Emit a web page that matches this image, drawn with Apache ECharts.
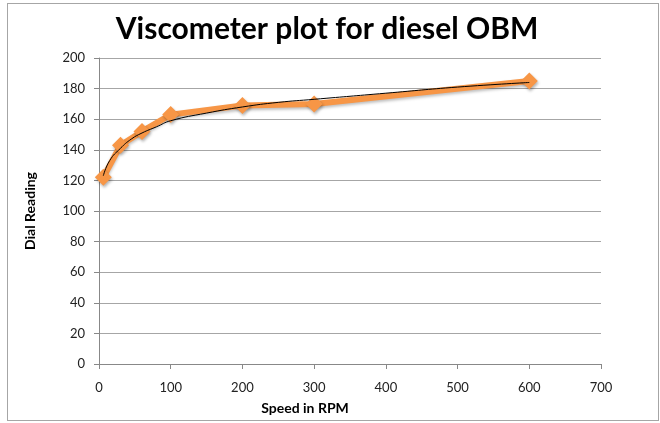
<!DOCTYPE html>
<html>
<head>
<meta charset="utf-8">
<script src="https://cdn.jsdelivr.net/npm/echarts@6/dist/echarts.min.js"></script>
<style>
  html, body { margin: 0; padding: 0; background: #fff; }
  #frame { position: absolute; left: 7px; top: 3px; width: 650px; height: 416px; border: 1px solid #a6a6a6; }
  #chart { position: absolute; left: 0; top: 0; width: 660px; height: 423px; }
</style>
</head>
<body>
<div id="frame"></div>
<div id="chart"></div>
<script>
// 数据点
let speed = [6, 30, 60, 100, 200, 300, 600]
let dial = [122, 143, 152, 163, 169, 170, 185]
// 趋势线
let trendX = [6, 15, 30, 45, 60, 80, 100, 150, 200, 250, 300, 400, 500, 600]
let trendY = [123, 133, 141, 147, 151, 155, 159, 164, 168, 171, 173, 177, 181, 184]

let xTicks = [0, 100, 200, 300, 400, 500, 600, 700]
let yTicks = [0, 20, 40, 60, 80, 100, 120, 140, 160, 180, 200]

let font = 'Lato, "Open Sans", sans-serif'

let chartOption = {
  animation: false,
  title: {
    text: 'Viscometer plot for diesel OBM',
    left: 322,
    top: 9,
    textAlign: 'center',
    textStyle: { fontFamily: font, fontSize: 30, fontWeight: 'bold', color: '#000' }
  },
  grid: { left: 99, right: 59, top: 58, bottom: 59 },
  xAxis: {
    type: 'value',
    min: xTicks[0],
    max: xTicks[xTicks.length - 1],
    interval: 100,
    name: 'Speed in RPM',
    nameLocation: 'middle',
    nameGap: 37,
    nameTextStyle: { fontFamily: font, fontSize: 14, fontWeight: 'bold', color: '#000', padding: [0, 90, 0, 0] },
    axisLine: { show: true, lineStyle: { color: '#888' } },
    axisTick: { show: true, length: 5, lineStyle: { color: '#888' } },
    axisLabel: { fontFamily: font, fontSize: 13, color: '#222', margin: 17 },
    splitLine: { show: false }
  },
  yAxis: {
    type: 'value',
    min: yTicks[0],
    max: yTicks[yTicks.length - 1],
    interval: 20,
    name: 'Dial Reading',
    nameLocation: 'middle',
    nameGap: 62,
    nameTextStyle: { fontFamily: font, fontSize: 14, fontWeight: 'bold', color: '#000' },
    axisLine: { show: true, lineStyle: { color: '#888' } },
    axisTick: { show: true, length: 5, lineStyle: { color: '#888' } },
    axisLabel: { fontFamily: font, fontSize: 13, color: '#222', margin: 14 },
    splitLine: { show: true, lineStyle: { color: '#a6a6a6', width: 1 } }
  },
  series: [
    {
      type: 'line',
      name: 'Dial',
      data: speed.map((v, i) => [v, dial[i]]),
      symbol: 'diamond',
      symbolSize: 17,
      itemStyle: { color: '#F79646', shadowColor: 'rgba(0,0,0,0.3)', shadowBlur: 3, shadowOffsetX: 1, shadowOffsetY: 2 },
      lineStyle: { color: '#F79646', width: 6, shadowColor: 'rgba(0,0,0,0.25)', shadowBlur: 3, shadowOffsetY: 2 },
      z: 2
    },
    {
      type: 'line',
      name: 'Trend',
      data: trendX.map((v, i) => [v, trendY[i]]),
      smooth: true,
      showSymbol: false,
      symbol: 'none',
      lineStyle: { color: '#000', width: 1 },
      z: 3
    }
  ]
}

let el = document.querySelector('#chart')
let chartInstance = echarts.init(el)
chartInstance.setOption(chartOption)
</script>
</body>
</html>
